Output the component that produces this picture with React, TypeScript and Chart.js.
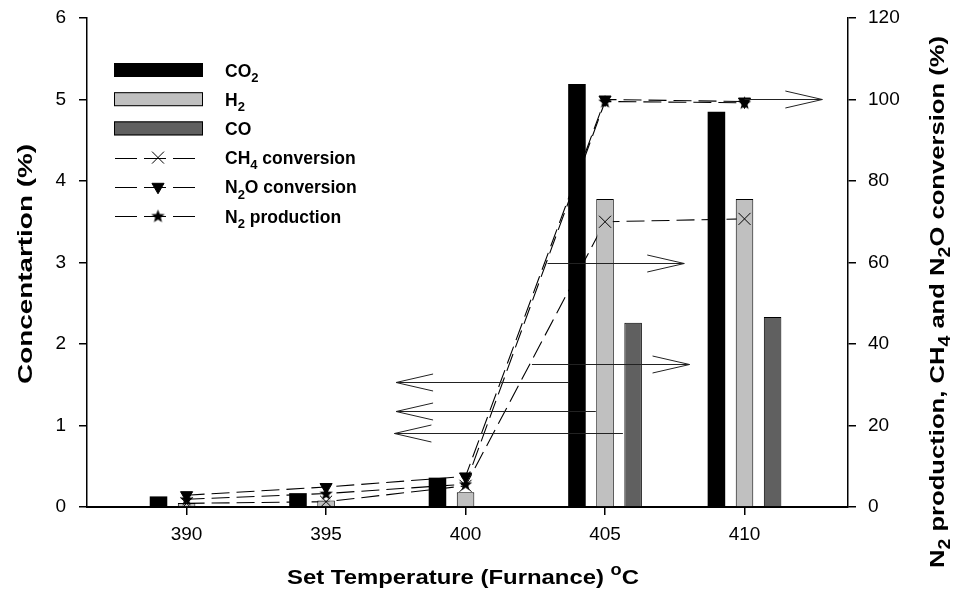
import React, { useEffect, useRef } from 'react';
import { Chart, registerables } from 'chart.js';

Chart.register(...registerables);

// ---------- data ----------
const temperatures = [390, 395, 400, 405, 410];
const co2Conc = [0.13, 0.17, 0.36, 5.19, 4.85];
const h2Conc = [0.05, 0.08, 0.18, 3.78, 3.78];
const coConc = [0, 0, 0, 2.26, 2.33];
const ch4Conversion = [0.9, 1.3, 5.2, 70.0, 70.7];
const n2oConversion = [2.9, 4.9, 7.5, 100.0, 99.5];
const n2Production = [1.9, 3.3, 5.6, 99.5, 99.2];

const xTickValues = [390, 395, 400, 405, 410];
const leftTickValues = [0, 1, 2, 3, 4, 5, 6];
const rightTickValues = [0, 20, 40, 60, 80, 100, 120];

// axis-indicator arrows (start temperature, end temperature, level, axis)
const arrowFrom = [403.71, 404.67, 405.64, 402.94, 402.38, 410];
const arrowTo = [397.51, 397.51, 397.45, 407.84, 408.03, 412.79];
const arrowLevel = [1.53, 1.18, 0.91, 60, 35, 100];
const arrowAxis = ['y', 'y', 'y', 'y1', 'y1', 'y1'];

const FONT = '"Liberation Sans", Arial, Helvetica, sans-serif';

type Part = { t: string; sub?: boolean; sup?: boolean };

function measureRich(ctx: CanvasRenderingContext2D, parts: Part[], size: number) {
  const main = `bold ${size}px ${FONT}`;
  const small = `bold ${Math.round(size * 0.75)}px ${FONT}`;
  let total = 0;
  for (const p of parts) {
    ctx.font = p.sub || p.sup ? small : main;
    total += ctx.measureText(p.t).width;
  }
  return total;
}

function drawRich(ctx: CanvasRenderingContext2D, parts: Part[], x: number, y: number, size: number, align: 'left' | 'center') {
  const main = `bold ${size}px ${FONT}`;
  const small = `bold ${Math.round(size * 0.75)}px ${FONT}`;
  const total = measureRich(ctx, parts, size);
  let cx = align === 'center' ? x - total / 2 : x;
  ctx.textAlign = 'left';
  ctx.textBaseline = 'alphabetic';
  ctx.fillStyle = '#000';
  for (const p of parts) {
    ctx.font = p.sub || p.sup ? small : main;
    const dy = p.sub ? size * 0.3 : p.sup ? -size * 0.42 : 0;
    ctx.fillText(p.t, cx, y + dy);
    cx += ctx.measureText(p.t).width;
  }
}

// title drawn centred at (cx, cy), rotated, stretched along its length to a given length
function drawTitle(ctx: CanvasRenderingContext2D, parts: Part[], cx: number, cy: number, size: number, length: number, rot: number) {
  ctx.save();
  const natural = measureRich(ctx, parts, size);
  ctx.translate(cx, cy);
  ctx.rotate(rot);
  ctx.scale(length / natural, 1);
  drawRich(ctx, parts, 0, size * 0.36, size, 'center');
  ctx.restore();
}

function makeStar(size: number): HTMLCanvasElement {
  const c = document.createElement('canvas');
  c.width = size;
  c.height = size;
  const ctx = c.getContext('2d')!;
  const cx = size / 2, cy = size / 2 + 0.5, R = size / 2 - 0.5, r = R * 0.42;
  ctx.beginPath();
  for (let k = 0; k < 10; k++) {
    const rad = k % 2 === 0 ? R : r;
    const a = -Math.PI / 2 + (k * Math.PI) / 5;
    const px = cx + rad * Math.cos(a);
    const py = cy + rad * Math.sin(a);
    if (k === 0) ctx.moveTo(px, py);
    else ctx.lineTo(px, py);
  }
  ctx.closePath();
  ctx.fillStyle = '#000';
  ctx.fill();
  return c;
}

function drawMarker(ctx: CanvasRenderingContext2D, kind: string, x: number, y: number, star: HTMLCanvasElement) {
  ctx.save();
  ctx.strokeStyle = '#000';
  ctx.fillStyle = '#000';
  ctx.lineWidth = 1;
  ctx.setLineDash([]);
  if (kind === 'cross') {
    const d = 6;
    ctx.beginPath();
    ctx.moveTo(x - d, y - d); ctx.lineTo(x + d, y + d);
    ctx.moveTo(x - d, y + d); ctx.lineTo(x + d, y - d);
    ctx.stroke();
  } else if (kind === 'tri') {
    const r = 7;
    ctx.beginPath();
    ctx.moveTo(x, y + r);
    ctx.lineTo(x - r * 0.866, y - r / 2);
    ctx.lineTo(x + r * 0.866, y - r / 2);
    ctx.closePath();
    ctx.fill();
    ctx.stroke();
  } else {
    ctx.drawImage(star, x - star.width / 2, y - star.height / 2);
  }
  ctx.restore();
}

export default function App() {
  const ref = useRef<HTMLCanvasElement | null>(null);

  useEffect(() => {
    if (!ref.current) return;
    const star = makeStar(15);
    const pts = (vals: number[]) => temperatures.map((t, i) => ({ x: t, y: vals[i] }));

    const lineBase: any = {
      type: 'line', yAxisID: 'y1', borderColor: '#000', borderWidth: 1.1, borderDash: [18, 7],
      pointRadius: 0, fill: false, tension: 0, order: 3,
    };
    const markerBase: any = {
      type: 'line', yAxisID: 'y1', showLine: false, order: 1,
      pointBackgroundColor: '#000', pointBorderColor: '#000', pointBorderWidth: 1,
    };
    const barBase: any = {
      type: 'bar', yAxisID: 'y', order: 2, categoryPercentage: 0.604, barPercentage: 0.625,
    };

    const legendRows = [
      { kind: 'bar', fill: '#000', border: false, parts: [{ t: 'CO' }, { t: '2', sub: true }] },
      { kind: 'bar', fill: '#c0c0c0', border: true, parts: [{ t: 'H' }, { t: '2', sub: true }] },
      { kind: 'bar', fill: '#606060', border: true, parts: [{ t: 'CO' }] },
      { kind: 'cross', parts: [{ t: 'CH' }, { t: '4', sub: true }, { t: ' conversion' }] },
      { kind: 'tri', parts: [{ t: 'N' }, { t: '2', sub: true }, { t: 'O conversion' }] },
      { kind: 'star', parts: [{ t: 'N' }, { t: '2', sub: true }, { t: ' production' }] },
    ];

    const decor = {
      id: 'decor',
      afterDatasetsDraw(chart: any) {
        const ctx: CanvasRenderingContext2D = chart.ctx;
        const xs = chart.scales.x;
        ctx.save();
        ctx.strokeStyle = '#222';
        ctx.lineWidth = 1;
        ctx.setLineDash([]);
        for (let i = 0; i < arrowFrom.length; i++) {
          const ys = chart.scales[arrowAxis[i]];
          const x1 = xs.getPixelForValue(arrowFrom[i]);
          const x2 = xs.getPixelForValue(arrowTo[i]);
          const y = Math.round(ys.getPixelForValue(arrowLevel[i])) + 0.5;
          const dir = x2 > x1 ? 1 : -1;
          ctx.beginPath();
          ctx.moveTo(x1, y); ctx.lineTo(x2, y);
          ctx.moveTo(x2 - dir * 37, y - 8.5); ctx.lineTo(x2, y); ctx.lineTo(x2 - dir * 37, y + 8.5);
          ctx.stroke();
        }
        ctx.restore();
      },
      afterDraw(chart: any) {
        const ctx: CanvasRenderingContext2D = chart.ctx;
        ctx.save();
        // legend
        const lx = 114, lw = 89, tx = 225;
        legendRows.forEach((row: any, i: number) => {
          const cy = 70 + i * 29.2;
          if (row.kind === 'bar') {
            ctx.fillStyle = row.fill;
            ctx.fillRect(lx, cy - 7, lw, 14);
            if (row.border) {
              ctx.strokeStyle = '#000';
              ctx.lineWidth = 1;
              ctx.strokeRect(lx + 0.5, cy - 6.5, lw - 1, 13);
            }
          } else {
            ctx.strokeStyle = '#000';
            ctx.lineWidth = 1.1;
            ctx.setLineDash([22, 7]);
            ctx.beginPath();
            ctx.moveTo(lx + 1, Math.round(cy) + 0.5);
            ctx.lineTo(lx + 83, Math.round(cy) + 0.5);
            ctx.stroke();
            ctx.setLineDash([]);
            drawMarker(ctx, row.kind, lx + 44, cy, star);
          }
          drawRich(ctx, row.parts, tx, cy + 6.5, 17.5, 'left');
        });
        // x title
        drawTitle(ctx, [{ t: 'Set Temperature (Furnance) ' }, { t: 'o', sup: true }, { t: 'C' }], 463, 576, 21, 352, 0);
        // left title
        drawTitle(ctx, [{ t: 'Concentartion (%)' }], 24, 264, 21, 240, -Math.PI / 2);
        // right title
        drawTitle(ctx, [
          { t: 'N' }, { t: '2', sub: true }, { t: ' production, CH' }, { t: '4', sub: true },
          { t: ' and N' }, { t: '2', sub: true }, { t: 'O conversion (%)' },
        ], 936, 302, 21, 532, -Math.PI / 2);
        ctx.restore();
      },
    };

    const tickFont = { family: FONT, size: 19 };
    const gridOpts = { display: true, drawOnChartArea: false, drawTicks: true, tickLength: 8, color: '#000', lineWidth: 1.5 };
    const noVPad = (s: any) => { s.paddingTop = 0; s.paddingBottom = 0; };

    const chart = new Chart(ref.current, {
      type: 'bar',
      data: {
        datasets: [
          { ...lineBase, label: 'CH4 line', data: pts(ch4Conversion) },
          { ...lineBase, label: 'N2O line', data: pts(n2oConversion) },
          { ...lineBase, label: 'N2 line', data: pts(n2Production) },
          { ...barBase, label: 'CO2', data: pts(co2Conc), backgroundColor: '#000', borderColor: '#000', borderWidth: 0 },
          { ...barBase, label: 'H2', data: pts(h2Conc), backgroundColor: '#c0c0c0', borderColor: '#000', borderWidth: 1 },
          { ...barBase, label: 'CO', data: pts(coConc), backgroundColor: '#606060', borderColor: '#000', borderWidth: 1 },
          { ...markerBase, label: 'CH4 conversion', data: pts(ch4Conversion), pointStyle: 'crossRot', pointRadius: 8.5 },
          { ...markerBase, label: 'N2O conversion', data: pts(n2oConversion), pointStyle: 'triangle', pointRotation: 180, pointRadius: 7 },
          { ...markerBase, label: 'N2 production', data: pts(n2Production), pointStyle: star, pointRadius: 7 },
        ] as any,
      },
      options: {
        responsive: false,
        animation: false,
        devicePixelRatio: 1,
        events: [],
        layout: { padding: { top: 18, left: 0, right: 0, bottom: 0 } },
        plugins: { legend: { display: false }, tooltip: { enabled: false }, title: { display: false } },
        scales: {
          x: {
            type: 'linear', min: 386.43, max: 413.71, offset: false,
            grid: { ...gridOpts, offset: false } as any,
            border: { display: true, color: '#000', width: 2 },
            ticks: { color: '#000', font: tickFont, padding: 8, autoSkip: false, maxRotation: 0 },
            afterBuildTicks: (s: any) => { s.ticks = xTickValues.map((v) => ({ value: v })); },
            afterFit: (s: any) => { s.height = 84; s.paddingLeft = 0; s.paddingRight = 0; },
          },
          y: {
            type: 'linear', position: 'left', min: 0, max: 6,
            grid: gridOpts as any,
            border: { display: true, color: '#000', width: 1.5 },
            ticks: { color: '#000', font: tickFont, padding: 13 },
            afterBuildTicks: (s: any) => { s.ticks = leftTickValues.map((v) => ({ value: v })); },
            afterFit: (s: any) => { s.width = 87; noVPad(s); },
          },
          y1: {
            type: 'linear', position: 'right', min: 0, max: 120,
            grid: gridOpts as any,
            border: { display: true, color: '#000', width: 1.5 },
            ticks: { color: '#000', font: tickFont, padding: 12 },
            afterBuildTicks: (s: any) => { s.ticks = rightTickValues.map((v) => ({ value: v })); },
            afterFit: (s: any) => { s.width = 108; noVPad(s); },
          },
        },
      } as any,
      plugins: [decor],
    });
    return () => chart.destroy();
  }, []);

  return (
    <div style={{ position: 'absolute', left: 0, top: 0, width: 956, height: 591, background: '#fff' }}>
      <canvas ref={ref} width={956} height={591} style={{ display: 'block' }} />
    </div>
  );
}
